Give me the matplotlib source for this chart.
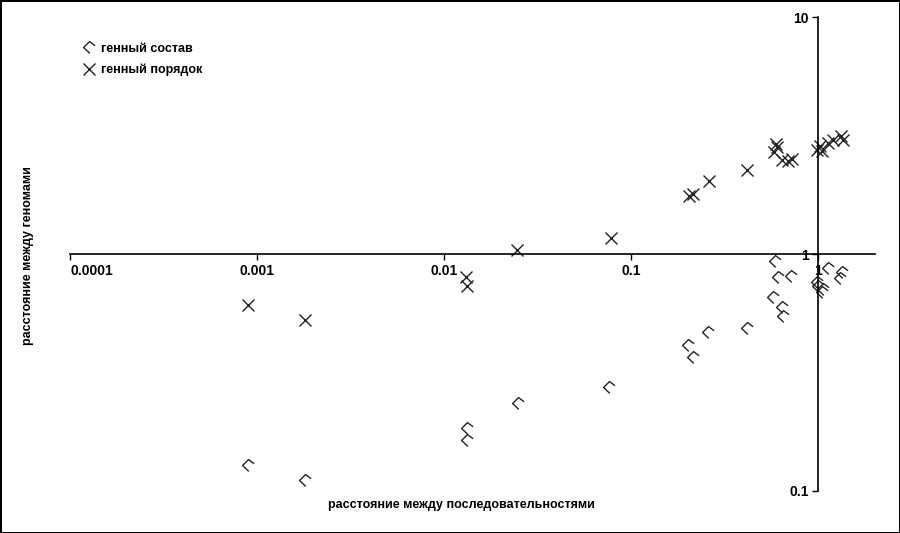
import matplotlib
matplotlib.use('Agg')
import matplotlib.pyplot as plt
from matplotlib.path import Path
import numpy as np

plt.rcParams['font.family'] = ['Liberation Sans Narrow', 'Liberation Sans', 'DejaVu Sans']
plt.rcParams['font.weight'] = 'bold'
plt.rcParams['font.size'] = 9

#%% ----------------------------------------------------------------
# данные

# генный порядок
x_order = [0.000895, 0.00181, 0.0131, 0.0133, 0.0246, 0.078, 0.204, 0.215, 0.261, 0.417,
           0.596, 0.604, 0.582, 0.642, 0.69, 0.726,
           0.99, 1.025, 1.05, 1.12, 1.20, 1.33, 1.36]
y_order = [0.609, 0.527, 0.80, 0.733, 1.04, 1.17, 1.76, 1.79, 2.03, 2.26,
           2.91, 2.83, 2.69, 2.49, 2.47, 2.52,
           2.75, 2.86, 2.72, 2.94, 3.03, 3.15, 3.03]

# генный состав
x_content = [0.000895, 0.00181, 0.0133, 0.0133, 0.0249, 0.0761, 0.202, 0.215, 0.258, 0.417,
             0.589, 0.611, 0.575, 0.642, 0.650, 0.717,
             0.988, 1.0, 1.05, 1.13, 1.06, 1.34, 1.31]
y_content = [0.129, 0.111, 0.184, 0.164, 0.235, 0.275, 0.413, 0.367, 0.469, 0.487,
             0.934, 0.80, 0.659, 0.597, 0.547, 0.807,
             0.762, 0.733, 0.691, 0.873, 0.712, 0.840, 0.792]

xticks = [0.0001, 0.001, 0.01, 0.1, 1]
xticklabels = ['0.0001', '0.001', '0.01', '0.1', '1']
yticks = [0.1, 1, 10]
yticklabels = ['0.1', '1', '10']

#%% ----------------------------------------------------------------
# маркер "скобка" (ромб без одной стороны)

bracket = Path([(0.95, 0.3), (0.0, 1.0), (-1.0, 0.0), (0.05, -1.0)],
               [Path.MOVETO, Path.LINETO, Path.LINETO, Path.LINETO])

fig = plt.figure(figsize=(9, 5.33), dpi=100)
fig.patch.set_edgecolor('black')
fig.patch.set_linewidth(2)
ax = fig.add_axes([0.0778, 0.0788, 0.894, 0.889])

ax.plot(x_content, y_content, ls='none', marker=bracket, ms=8.5, mew=1.0,
        mfc='none', mec='#222222', label='генный состав')
ax.plot(x_order, y_order, ls='none', marker='x', ms=9, mew=1.0,
        color='#222222', label='генный порядок')

ax.set_xscale('log')
ax.set_yscale('log')
ax.set_xlim(0.0001, 2)
ax.set_ylim(0.1, 10)

for s in ['top', 'right']:
    ax.spines[s].set_visible(False)
ax.spines['left'].set_position(('data', 1))
ax.spines['bottom'].set_position(('data', 1))
ax.spines['left'].set_linewidth(1.2)
ax.spines['bottom'].set_linewidth(1.2)

ax.set_xticks(xticks)
ax.set_xticklabels(xticklabels)
ax.set_yticks(yticks)
ax.set_yticklabels(yticklabels)
ax.minorticks_off()
ax.tick_params(direction='out', length=4, width=1, labelsize=10, pad=3)
ax.get_xticklabels()[0].set_ha('left')

ax.legend(loc='upper left', bbox_to_anchor=(0.0, 0.97), frameon=False,
          handletextpad=0.4, labelspacing=0.7, fontsize=9, handlelength=1.2)

fig.text(0.031, 0.52, 'расстояние между геномами', rotation=90,
         ha='center', va='center', fontsize=9)
fig.text(0.513, 0.052, 'расстояние между последовательностями',
         ha='center', va='center', fontsize=9)

fig.savefig('out.png', dpi=100, edgecolor=fig.get_edgecolor())
